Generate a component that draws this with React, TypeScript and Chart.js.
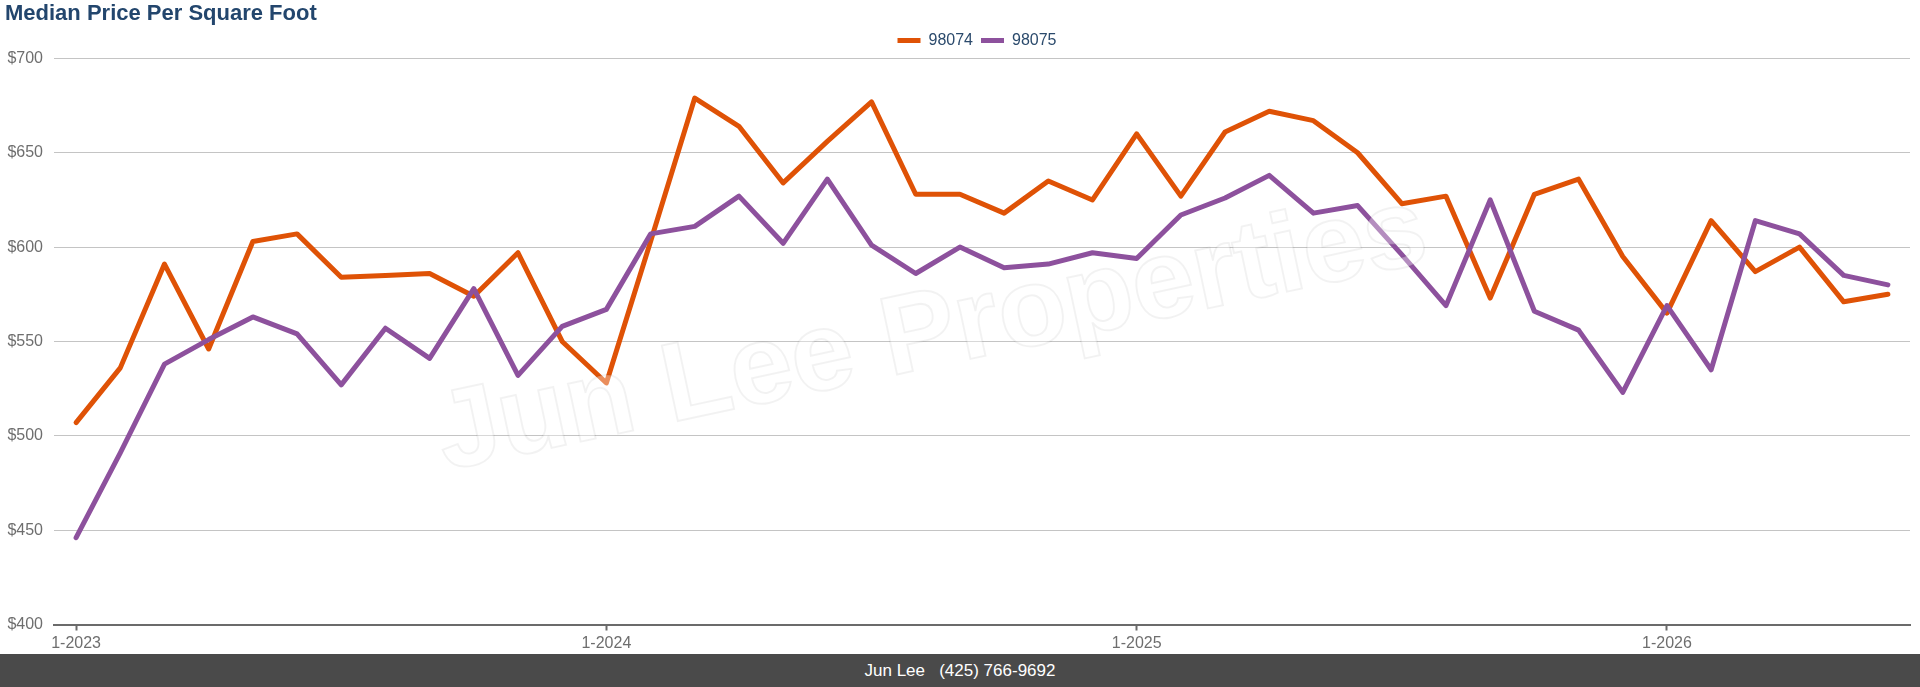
import { useEffect, useRef } from "react";
import { Chart, registerables } from "chart.js";

Chart.register(...registerables);

const FONT = '"Liberation Sans", Arial, Helvetica, sans-serif';
const ORANGE = "#df5206";
const PURPLE = "#8d519d";

// month labels, m-yyyy
const months = [
  "1-2023", "2-2023", "3-2023", "4-2023", "5-2023", "6-2023",
  "7-2023", "8-2023", "9-2023", "10-2023", "11-2023", "12-2023",
  "1-2024", "2-2024", "3-2024", "4-2024", "5-2024", "6-2024",
  "7-2024", "8-2024", "9-2024", "10-2024", "11-2024", "12-2024",
  "1-2025", "2-2025", "3-2025", "4-2025", "5-2025", "6-2025",
  "7-2025", "8-2025", "9-2025", "10-2025", "11-2025", "12-2025",
  "1-2026", "2-2026", "3-2026", "4-2026", "5-2026", "6-2026",
];

const zip98074 = [
  507, 536, 591, 546, 603, 607, 584, 585, 586, 574, 597, 550,
  528, 603, 679, 664, 634, 656, 677, 628, 628, 618, 635, 625,
  660, 627, 661, 672, 667, 650, 623, 627, 573, 628, 636, 595,
  565, 614, 587, 600, 571, 575,
];

const zip98075 = [
  446, 491, 538, 551, 563, 554, 527, 557, 541, 578, 532, 558,
  567, 607, 611, 627, 602, 636, 601, 586, 600, 589, 591, 597,
  594, 617, 626, 638, 618, 622, 596, 569, 625, 566, 556, 523,
  569, 535, 614, 607, 585, 580,
];

// faint text stamped over the plot
const watermark = {
  id: "watermark",
  afterDatasetsDraw(chart: any) {
    const { ctx, chartArea } = chart;
    const cx = (chartArea.left + chartArea.right) / 2 - 50;
    const cy = (chartArea.top + chartArea.bottom) / 2 - 6;
    ctx.save();
    ctx.translate(cx, cy);
    ctx.rotate((-12 * Math.PI) / 180);
    ctx.font = `bold 112px ${FONT}`;
    ctx.textAlign = "center";
    ctx.textBaseline = "middle";
    ctx.fillStyle = "rgba(255,255,255,0.35)";
    ctx.fillText("Jun Lee Properties", 0, 0);
    ctx.strokeStyle = "rgba(0,0,0,0.05)";
    ctx.lineWidth = 2;
    ctx.strokeText("Jun Lee Properties", 0, 0);
    ctx.restore();
  },
};

// put the legend roughly over the middle of the plot area
const centerLegend = {
  id: "centerLegend",
  afterLayout(chart: any) {
    const legend = chart.legend;
    const area = chart.chartArea;
    if (!legend || !area) return;
    const shift = (area.left + area.right) / 2 - 5 - (legend.left + legend.right) / 2;
    legend.left += shift;
    legend.right += shift;
  },
};

export default function App() {
  const canvasRef = useRef<HTMLCanvasElement>(null);

  useEffect(() => {
    document.body.style.margin = "0";
    if (!canvasRef.current) return;

    const chart = new Chart(canvasRef.current, {
      type: "line",
      data: {
        labels: months,
        datasets: [
          {
            label: "98074",
            data: zip98074,
            borderColor: ORANGE,
            backgroundColor: ORANGE,
            borderWidth: 5,
            pointRadius: 0,
            borderJoinStyle: "round",
            borderCapStyle: "round",
            order: 1,
          },
          {
            label: "98075",
            data: zip98075,
            borderColor: PURPLE,
            backgroundColor: PURPLE,
            borderWidth: 5,
            pointRadius: 0,
            borderJoinStyle: "round",
            borderCapStyle: "round",
            order: 0,
          },
        ],
      },
      options: {
        responsive: true,
        maintainAspectRatio: false,
        animation: false,
        layout: { padding: { left: 5, right: 10, top: 0, bottom: 4 } },
        scales: {
          x: {
            type: "category",
            offset: true,
            afterFit: (scale: any) => {
              scale.height = 25.5;
            },
            grid: {
              display: true,
              drawOnChartArea: false,
              drawTicks: true,
              tickLength: 6,
              tickWidth: 2,
              tickColor: (ctx: any) =>
                ctx.index % 12 === 0 ? "#6b6b6b" : "rgba(0,0,0,0)",
            },
            border: { display: true, color: "#6b6b6b", width: 2 },
            ticks: {
              autoSkip: false,
              maxRotation: 0,
              padding: 3,
              color: "#6e6e6e",
              font: { family: FONT, size: 16 },
              callback: (_v: any, i: number) => (i % 12 === 0 ? months[i] : ""),
            },
          },
          y: {
            min: 400,
            max: 700,
            afterFit: (scale: any) => {
              scale.width = 49;
            },
            border: { display: false },
            grid: { color: "#c4c4c4", lineWidth: 1, drawTicks: false },
            ticks: {
              stepSize: 50,
              padding: 11,
              color: "#6e6e6e",
              font: { family: FONT, size: 16 },
              callback: (v: any) => "$" + v,
            },
          },
        },
        plugins: {
          title: {
            display: true,
            text: "Median Price Per Square Foot",
            align: "start",
            color: "#23466d",
            font: { family: FONT, size: 22, weight: "bold" },
            padding: { top: 1, bottom: -3 },
          },
          legend: {
            position: "top",
            align: "center",
            labels: {
              boxWidth: 23,
              boxHeight: 5,
              padding: 8,
              color: "#2b4a6c",
              font: { family: FONT, size: 16 },
              sort: (a: any, b: any) => a.datasetIndex - b.datasetIndex,
              generateLabels: (c: any) =>
                Chart.defaults.plugins.legend.labels
                  .generateLabels(c)
                  .map((l: any) => ({ ...l, lineWidth: 0, fillStyle: l.strokeStyle })),
            },
          },
          tooltip: { enabled: false },
        },
      },
      plugins: [watermark, centerLegend],
    });

    return () => chart.destroy();
  }, []);

  return (
    <div style={{ width: 1920, fontFamily: FONT }}>
      <div style={{ position: "relative", width: 1920, height: 654 }}>
        <canvas ref={canvasRef} />
      </div>
      <div
        style={{
          height: 33,
          lineHeight: "33px",
          background: "#4a4a4a",
          color: "#ffffff",
          textAlign: "center",
          fontSize: 17,
        }}
      >
        {"Jun Lee\u00a0\u00a0 (425) 766-9692"}
      </div>
    </div>
  );
}
